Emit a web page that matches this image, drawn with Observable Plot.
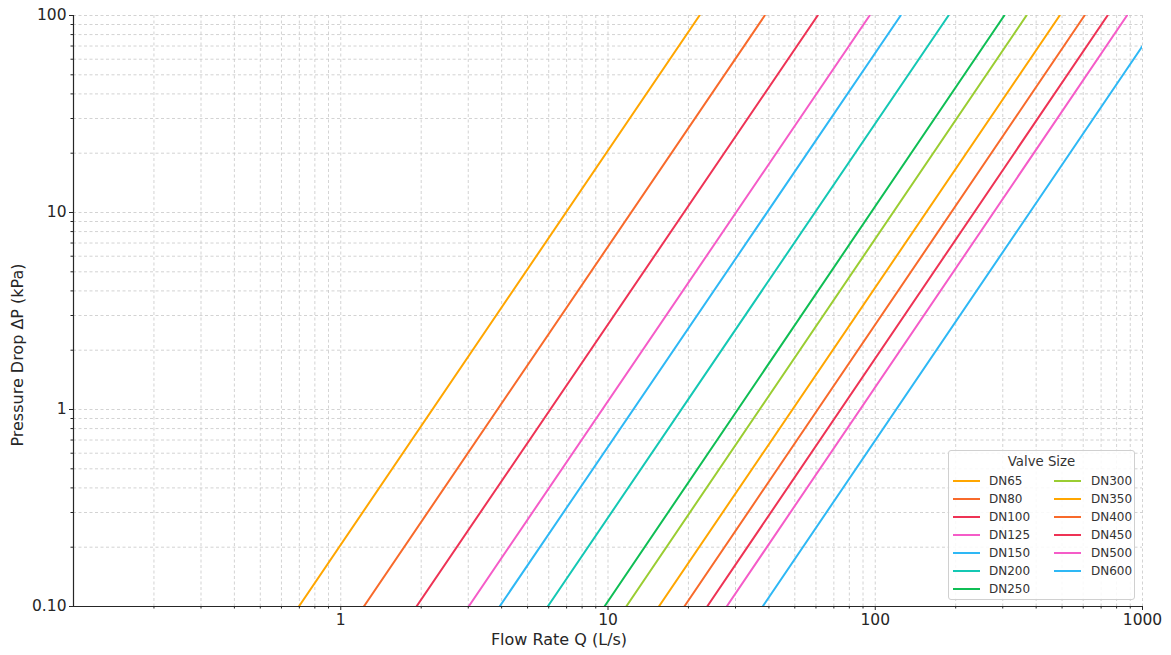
<!DOCTYPE html>
<html><head><meta charset="utf-8">
<script src="https://cdn.jsdelivr.net/npm/d3@7"></script>
<script src="https://cdn.jsdelivr.net/npm/@observablehq/plot@0.6"></script>
<style>
body{margin:0;background:#fff;font-family:"DejaVu Sans",sans-serif;}
#wrap{position:relative;width:1171px;height:655px;overflow:hidden;}
.lbl{position:absolute;font-size:16px;color:#262626;white-space:nowrap;}
#legend{position:absolute;left:948px;top:450px;width:187px;height:150px;box-sizing:border-box;border:1px solid #d0d0d0;border-radius:3px;background:rgba(255,255,255,0.85);}
#legend .t{position:absolute;left:0;width:100%;top:3px;text-align:center;font-size:13.3px;color:#333;}
#legend .it{position:absolute;font-size:12px;color:#333;line-height:14px;}
#legend .sw{position:absolute;height:2px;width:27px;}
</style></head><body><div id="wrap"></div>
<script>
const sizes = ["DN65","DN80","DN100","DN125","DN150","DN200","DN250","DN300","DN350","DN400","DN450","DN500","DN600"];
const colors = ["#FFA600","#F86A2B","#EE3355","#F55CC8","#2EB8F5","#14C8B4","#0FBE55","#9ACD32","#FFA600","#F86A2B","#EE3355","#F55CC8","#2EB8F5"];
// flow (L/s) where each curve enters at the bottom of the chart (ΔP = 0.1 kPa)
const qStart = [0.697, 1.22, 1.92, 3.01, 3.93, 5.95, 9.7, 11.7, 15.5, 19.3, 23.5, 27.8, 37.9];
const pStart = [0.1, 0.1, 0.1, 0.1, 0.1, 0.1, 0.1, 0.1, 0.1, 0.1, 0.1, 0.1, 0.1];
// flow (L/s) and ΔP (kPa) where each curve leaves the chart
const qEnd = [22.0, 38.6, 60.9, 95.3, 124.5, 188, 304, 368, 490, 607, 740, 875, 1000];
const pEnd = [100, 100, 100, 100, 100, 100, 100, 100, 100, 100, 100, 100, 70];

const xMajor = [1, 10, 100, 1000];
const xMinor = [0.2,0.3,0.4,0.5,0.6,0.7,0.8,0.9,2,3,4,5,6,7,8,9,20,30,40,50,60,70,80,90,200,300,400,500,600,700,800,900];
const yMajor = [0.1, 1, 10, 100];
const yMajorLabels = ["0.10", "1", "10", "100"];
const yMinor = [0.2,0.3,0.4,0.5,0.6,0.7,0.8,0.9,2,3,4,5,6,7,8,9,20,30,40,50,60,70,80,90];

const rows = [];
sizes.forEach((s, i) => {
  rows.push({size: s, q: qStart[i], p: pStart[i]});
  rows.push({size: s, q: qEnd[i], p: pEnd[i]});
});

const gridStyle = {stroke: "#c8c8c8", strokeOpacity: 1, strokeWidth: 0.8, strokeDasharray: "3,2.5"};

const chart = Plot.plot({
  width: 1171, height: 655,
  marginLeft: 73, marginRight: 29, marginTop: 15, marginBottom: 49,
  style: {fontFamily: "DejaVu Sans, sans-serif", fontSize: "15.5px", color: "#262626", background: "transparent", overflow: "visible"},
  x: {type: "log", domain: [0.1, 1000]},
  y: {type: "log", domain: [0.1, 100]},
  color: {domain: sizes, range: colors},
  marks: [
    Plot.gridX([...xMajor, ...xMinor], gridStyle),
    Plot.gridY([...yMajor, ...yMinor], gridStyle),
    Plot.line(rows, {x: "q", y: "p", z: "size", stroke: "size", strokeWidth: 2, clip: true}),
    Plot.axisX(xMajor, {tickSize: 4, tickPadding: 3, tickFormat: d => String(d), label: null, stroke: "#262626"}),
    Plot.axisX(xMinor, {tickSize: 2.5, text: null, label: null, stroke: "#262626"}),
    Plot.axisY(yMajor, {tickSize: 4, tickPadding: 3, tickFormat: d => yMajorLabels[yMajor.indexOf(d)], label: null, stroke: "#262626"}),
    Plot.axisY(yMinor, {tickSize: 2.5, text: null, label: null, stroke: "#262626"}),
    Plot.ruleX([0.1], {stroke: "#262626", strokeWidth: 1.2}),
    Plot.ruleY([0.1], {stroke: "#262626", strokeWidth: 1.2})
  ]
});
const wrap = document.getElementById("wrap");
wrap.appendChild(chart);

const xl = document.createElement("div");
xl.className = "lbl"; xl.textContent = "Flow Rate Q (L/s)";
xl.style.left = "559px"; xl.style.top = "630px"; xl.style.transform = "translateX(-50%)";
wrap.appendChild(xl);

const yl = document.createElement("div");
yl.className = "lbl"; yl.textContent = "Pressure Drop ΔP (kPa)";
yl.style.left = "17px"; yl.style.top = "355px"; yl.style.transform = "translate(-50%,-50%) rotate(-90deg)";
wrap.appendChild(yl);

const lg = document.createElement("div");
lg.id = "legend";
lg.innerHTML = '<div class="t">Valve Size</div>';
sizes.forEach((s, i) => {
  const col = i < 7 ? 0 : 1;
  const row = i < 7 ? i : i - 7;
  const cy = 30 + row * 18.05;
  const sx = col === 0 ? 4 : 105;
  const tx = col === 0 ? 40 : 142;
  const sw = document.createElement("div");
  sw.className = "sw"; sw.style.left = sx + "px"; sw.style.top = (cy - 1) + "px"; sw.style.background = colors[i];
  const it = document.createElement("div");
  it.className = "it"; it.textContent = s; it.style.left = tx + "px"; it.style.top = (cy - 7) + "px";
  lg.appendChild(sw); lg.appendChild(it);
});
wrap.appendChild(lg);
</script></body></html>
